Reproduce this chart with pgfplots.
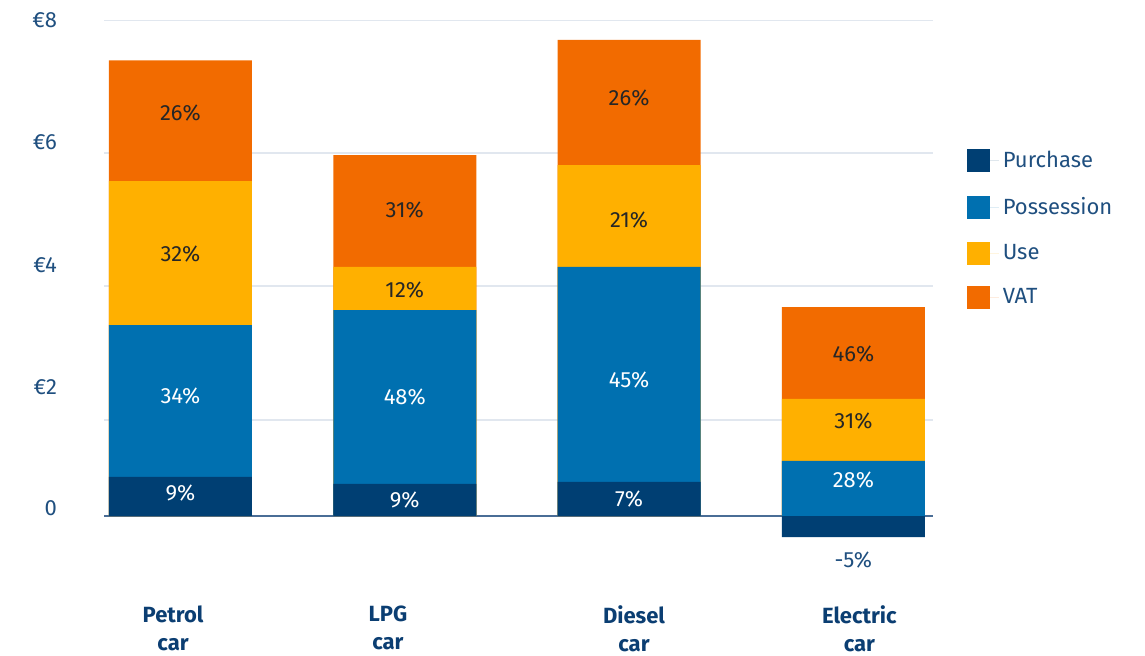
\documentclass[border=0pt]{standalone}
\usepackage{fontspec}
\setmainfont{Fira Sans}
\usepackage{pgfplots}
\pgfplotsset{compat=1.18}
\usepackage{pgfplotstable}
\definecolor{purchcol}{HTML}{003F73}
\definecolor{posscol}{HTML}{0070B0}
\definecolor{usecol}{HTML}{FFB000}
\definecolor{vatcol}{HTML}{F26B00}
\definecolor{tickcol}{HTML}{1F4F7F}
\definecolor{catcol}{HTML}{0B3E72}
\definecolor{gridcol}{HTML}{E1E7EF}
\definecolor{zerocol}{HTML}{4A6D96}
\definecolor{darklab}{HTML}{262626}
% top edge of each segment (values in euro), bars drawn from 0
\pgfplotstableread{
x vat use poss purch
0 7.35 5.40 3.08 0.63
1 5.82 4.02 3.32 0.52
2 7.68 5.66 4.02 0.55
3 3.37 1.89 0.89 -0.34
}\tops
\begin{document}
\begin{tikzpicture}
\useasboundingbox (0,0) rectangle (572.5pt,327.5pt);
\begin{axis}[
  at={(52pt,38.5pt)}, anchor=south west,
  scale only axis, width=414.5pt, height=279pt,
  xmin=-0.341, xmax=3.355, ymin=-1, ymax=8,
  axis lines=left, axis line style={draw=none},
  major tick length=0pt, minor tick length=0pt,
  xtick={-0.033,0.925,2.022,3.027},
  xticklabels={{Petrol\\car},{LPG\\car},{Diesel\\car},{Electric\\car}},
  xticklabel style={align=center, font=\fontsize{11}{14}\selectfont\bfseries, text=catcol, anchor=north, yshift=-10.5pt},
  ytick={0.13,2.08,4.05,6.03,8},
  yticklabels={0,€2,€4,€6,€8},
  yticklabel style={font=\fontsize{11}{13}\selectfont, text=tickcol, anchor=east, xshift=-20pt},
  minor ytick={1.548,3.71,5.855,7.99},
  yminorgrids, minor grid style={color=gridcol, line width=0.6pt},
  extra y ticks={0}, extra y tick labels={},
  extra y tick style={ymajorgrids=true, grid style={color=zerocol, line width=1pt}},
  legend style={draw=none, fill=none, at={(1.033,0.78)}, anchor=north west,
    font=\fontsize{11}{13}\selectfont, text=tickcol, row sep=9.3pt},
  legend cell align=left,
  reverse legend,
  legend image code/.code={\fill[#1] (0pt,-5.75pt) rectangle (11.5pt,5.75pt);
    \path (0pt,0pt) -- (16pt,0pt);},
]
\addplot[ybar, bar width=71.5pt, bar shift=0pt, fill=vatcol, draw=none] table[x=x,y=vat] {\tops};
\addlegendentry{VAT}
\addplot[ybar, bar width=71.5pt, bar shift=0pt, fill=usecol, draw=none] table[x=x,y=use] {\tops};
\addlegendentry{Use}
\addplot[ybar, bar width=71.5pt, bar shift=0pt, fill=posscol, draw=none] table[x=x,y=poss] {\tops};
\addlegendentry{Possession}
\addplot[ybar, bar width=71.5pt, bar shift=0pt, fill=purchcol, draw=none] table[x=x,y=purch] {\tops};
\addlegendentry{Purchase}
% white labels
\addplot[forget plot, only marks, mark=none, point meta=explicit symbolic,
  nodes near coords, nodes near coords align=center,
  nodes near coords style={text=white, font=\fontsize{11}{13}\selectfont}]
  coordinates {(0,0.37) [9\%] (0,1.94) [34\%] (1,0.26) [9\%] (1,1.92) [48\%]
               (2,0.27) [7\%] (2,2.19) [45\%] (3,0.58) [28\%]};
% dark labels
\addplot[forget plot, only marks, mark=none, point meta=explicit symbolic,
  nodes near coords, nodes near coords align=center,
  nodes near coords style={text=darklab, font=\fontsize{11}{13}\selectfont}]
  coordinates {(0,4.23) [32\%] (0,6.50) [26\%] (1,3.65) [12\%] (1,4.94) [31\%]
               (2,4.77) [21\%] (2,6.74) [26\%] (3,1.53) [31\%] (3,2.61) [46\%]};
% negative label
\addplot[forget plot, only marks, mark=none, point meta=explicit symbolic,
  nodes near coords, nodes near coords align=center,
  nodes near coords style={text=tickcol, font=\fontsize{11}{13}\selectfont}]
  coordinates {(3,-0.71) [-5\%]};
\end{axis}
\end{tikzpicture}
\end{document}
